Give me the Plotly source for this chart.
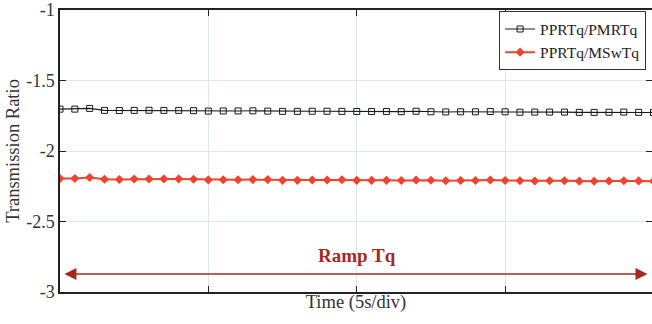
import plotly.graph_objects as go

t = [i * 0.5 for i in range(41)]
pmr = [-1.703, -1.703, -1.698, -1.712, -1.713, -1.712, -1.711, -1.712, -1.712, -1.714,
       -1.717, -1.716, -1.716, -1.715, -1.717, -1.719, -1.719, -1.718, -1.718, -1.719,
       -1.720, -1.720, -1.720, -1.721, -1.718, -1.722, -1.723, -1.722, -1.722, -1.720,
       -1.722, -1.725, -1.724, -1.724, -1.724, -1.726, -1.726, -1.725, -1.724, -1.726,
       -1.727]
msw = [-2.195, -2.195, -2.188, -2.200, -2.202, -2.199, -2.199, -2.198, -2.198, -2.200,
       -2.205, -2.204, -2.204, -2.203, -2.203, -2.208, -2.208, -2.206, -2.206, -2.204,
       -2.208, -2.208, -2.208, -2.209, -2.206, -2.207, -2.211, -2.209, -2.209, -2.206,
       -2.209, -2.211, -2.213, -2.211, -2.211, -2.214, -2.214, -2.213, -2.211, -2.212,
       -2.214]
y_ticks = [-3, -2.5, -2, -1.5, -1]
y_labels = ["-3", "-2.5", "-2", "-1.5", "-1"]
x_ticks = [0, 5, 10, 15, 20]
ramp_label = "Ramp Tq"
ramp_y = -2.872
ramp_text_y = -2.74

serif = "Liberation Serif, Times New Roman, serif"

fig = go.Figure()
fig.add_trace(go.Scatter(
    x=t, y=pmr, name="PPRTq/PMRTq", mode="lines+markers",
    line=dict(color="#1a1a1a", width=1.1),
    marker=dict(symbol="square-open", size=6, color="#1a1a1a", line=dict(width=1)),
))
fig.add_trace(go.Scatter(
    x=t, y=msw, name="PPRTq/MSwTq", mode="lines+markers",
    line=dict(color="#f2412f", width=2),
    marker=dict(symbol="diamond", size=7, color="#f2412f"),
))

fig.add_annotation(
    x=0.15, y=ramp_y, ax=19.85, ay=ramp_y, xref="x", yref="y", axref="x", ayref="y",
    text="", showarrow=True, arrowside="end+start", arrowhead=2, arrowsize=1.5,
    arrowwidth=1.6, arrowcolor="#a8281e",
)
fig.add_annotation(
    x=10, y=ramp_text_y, xref="x", yref="y", text="<b>" + ramp_label + "</b>",
    showarrow=False, font=dict(family=serif, size=19, color="#a8281e"),
)

fig.update_layout(
    width=652, height=324,
    margin=dict(l=60, r=0, t=10, b=32),
    paper_bgcolor="white", plot_bgcolor="white",
    font=dict(family=serif, size=16, color="#333"),
    showlegend=True,
    legend=dict(
        x=0.99, y=0.995, xanchor="right", yanchor="top",
        bgcolor="white", bordercolor="#333", borderwidth=1,
        font=dict(family=serif, size=15.5, color="#222"),
        tracegroupgap=0, itemwidth=30,
    ),
)
fig.update_xaxes(
    range=[0, 19.95], tickvals=x_ticks, showticklabels=False,
    ticks="inside", ticklen=6, tickcolor="#222",
    showgrid=True, gridcolor="#dde6ee", gridwidth=1,
    showline=True, linecolor="#222", linewidth=1.5, mirror="ticks",
    zeroline=False, automargin=False,
    title=dict(text="Time (5s/div)", font=dict(family=serif, size=18.5, color="#333"), standoff=2),
)
fig.update_yaxes(
    range=[-3, -1], tickvals=y_ticks, ticktext=y_labels,
    ticks="inside", ticklen=6, tickcolor="#222",
    showgrid=True, gridcolor="#dde6ee", gridwidth=1,
    showline=True, linecolor="#222", linewidth=1.5, mirror="ticks",
    zeroline=False, automargin=False, tickfont=dict(family=serif, size=18, color="#333"),
    title=dict(text="Transmission Ratio", font=dict(family=serif, size=18.5, color="#333"), standoff=2),
)

fig.write_html("out.html", config={"displayModeBar": False},
               post_script="document.body.style.margin='0';")
